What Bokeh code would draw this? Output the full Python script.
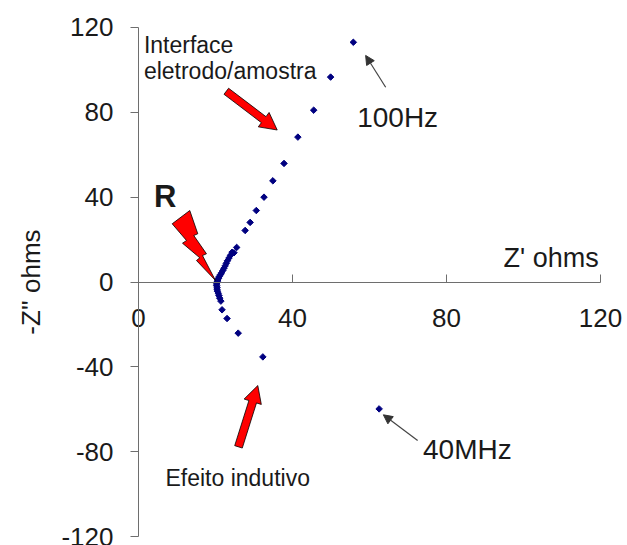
import numpy as np
from bokeh.plotting import figure
from bokeh.models import Range1d, LinearAxis, FixedTicker, Label, Arrow, NormalHead
from bokeh.embed import file_html
from bokeh.resources import INLINE

# Nyquist data: Z' (ohms) and -Z'' (ohms)
z_real = [55.8, 49.9, 45.5, 41.4, 37.8, 34.9, 32.6, 30.6, 29.0, 27.7, 25.5,
          24.8, 24.3, 23.9, 23.5, 23.1, 22.8, 22.5, 22.2, 21.9, 21.6, 21.3, 21.0,
          20.8, 20.6, 20.5, 20.4, 20.3, 20.3, 20.4, 20.4, 20.5, 20.7, 20.9, 21.1,
          21.4, 21.7, 23.0, 25.9, 32.3, 62.5]
z_imag = [113.0, 96.6, 81.0, 68.3, 55.9, 47.7, 40.0, 33.7, 28.1, 24.3, 16.3,
          13.8, 14.0, 12.6, 11.3, 10.0, 8.8, 7.6, 6.5, 5.4, 4.4, 3.5, 2.6,
          1.8, 1.0, 0.4, -0.2, -0.9, -1.7, -2.5, -3.4, -4.3, -5.3, -6.4, -7.6,
          -9.0, -13.1, -17.2, -24.1, -35.3, -59.8]

x_ticks = [0, 40, 80, 120]
y_ticks = [-120, -80, -40, 0, 40, 80, 120]
y_tick_labels = {t: str(t) for t in y_ticks}
x_tick_labels = {t: str(t) for t in x_ticks}

FONT = "Liberation Sans"
AXIS_COLOR = "#6e6e6e"
TXT = "#1a1a1a"

p = figure(width=627, height=545, output_backend="svg", toolbar_location=None,
           x_range=Range1d(-35.84, 127.01), y_range=Range1d(-124.2, 132.7),
           x_axis_type=None, y_axis_type=None,
           min_border_left=0, min_border_right=0, min_border_top=0, min_border_bottom=0)
p.outline_line_color = None
p.xgrid.visible = False
p.ygrid.visible = False
p.background_fill_color = "white"
p.border_fill_color = "white"

yaxis = LinearAxis(ticker=FixedTicker(ticks=y_ticks), fixed_location=0, bounds=(-120, 120),
                   major_label_overrides=y_tick_labels)
yaxis.axis_line_color = AXIS_COLOR
yaxis.major_tick_line_color = AXIS_COLOR
yaxis.major_tick_out = 8
yaxis.major_tick_in = 0
yaxis.minor_tick_line_color = None
yaxis.major_label_text_font = FONT
yaxis.major_label_text_font_size = "26px"
yaxis.major_label_text_color = TXT
yaxis.major_label_standoff = 17
p.add_layout(yaxis, "left")

xaxis = LinearAxis(ticker=FixedTicker(ticks=x_ticks), fixed_location=0, bounds=(0, 120),
                   major_label_overrides=x_tick_labels)
xaxis.axis_line_color = AXIS_COLOR
xaxis.major_tick_line_color = AXIS_COLOR
xaxis.major_tick_in = 8
xaxis.major_tick_out = 0
xaxis.minor_tick_line_color = None
xaxis.major_label_text_font = FONT
xaxis.major_label_text_font_size = "26px"
xaxis.major_label_text_color = TXT
xaxis.major_label_standoff = 27
p.add_layout(xaxis, "below")

# data points
p.scatter(z_real, z_imag, marker="square", angle=np.pi / 4, size=4.6,
          fill_color="#000080", line_color="#000080")

# red annotation shapes (data units)
bolt_x = [13.32, 15.40, 14.36, 17.66, 16.62, 20.00, 15.06, 15.92, 11.43, 12.47, 8.75]
bolt_y = [33.71, 22.73, 21.92, 13.30, 12.49, 0.71, 10.14, 11.41, 18.29, 19.57, 27.44]
p.patch(bolt_x, bolt_y, fill_color="#ff0000", line_color="black", line_width=0.8)

arr1_x = [22.21, 31.92, 31.12, 36.03, 33.92, 33.12, 23.40]
arr1_y = [88.50, 75.11, 73.13, 71.66, 79.92, 77.94, 91.33]
p.patch(arr1_x, arr1_y, fill_color="#ff0000", line_color="black", line_width=0.8)

arr2_x = [26.96, 30.65, 31.90, 30.99, 27.43, 28.68, 24.99]
arr2_y = [-78.26, -57.00, -57.71, -48.80, -55.16, -55.87, -77.13]
p.patch(arr2_x, arr2_y, fill_color="#ff0000", line_color="black", line_width=0.8)

# thin black arrows
for xs, ys, xe, ye in [(64.2, 91.8, 59.0, 106.8), (72.5, -74.7, 63.6, -62.6)]:
    p.add_layout(Arrow(end=NormalHead(size=9, fill_color="#333333", line_color="#333333"),
                       x_start=xs, y_start=ys, x_end=xe, y_end=ye,
                       line_color="#444444", line_width=1.2))

def lab(x, y, t, size, style="normal", angle=0.0, align="left"):
    p.add_layout(Label(x=x, y=y, text=t, text_font=FONT, text_font_size=size,
                       text_font_style=style, text_color=TXT, angle=angle,
                       text_baseline="middle", text_align=align))

lab(1.4, 111.9, "Interface", "23px")
lab(1.4, 99.3, "eletrodo/amostra", "23px")
lab(56.8, 77.4, "100Hz", "28px")
lab(73.9, -78.8, "40MHz", "28px")
lab(7.0, -92.3, "Efeito indutivo", "23px")
lab(4.0, 40.4, "R", "31px", "bold")
lab(94.8, 11.3, "Z' ohms", "27px")
lab(-27.9, 0.0, "-Z'' ohms", "26px", angle=np.pi / 2, align="center")

open("out.html", "w").write(file_html(p, INLINE))
